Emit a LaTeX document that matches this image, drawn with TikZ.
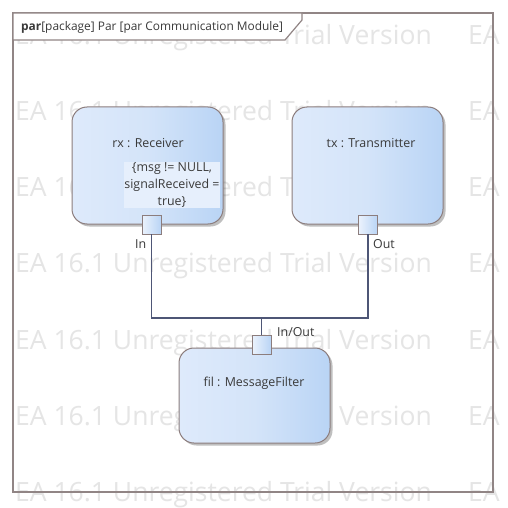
\documentclass[tikz,border=0pt]{standalone}
\usepackage{fontspec}
\setmainfont{Open Sans}
\usetikzlibrary{shadows}
\definecolor{bord}{RGB}{140,125,125}
\definecolor{frm}{RGB}{145,133,133}
\definecolor{wm}{RGB}{229,229,229}
\definecolor{lnk}{RGB}{78,86,118}
\definecolor{txt}{RGB}{58,58,58}
\definecolor{bl}{RGB}{222,234,251}
\definecolor{bm}{RGB}{212,228,249}
\definecolor{br}{RGB}{185,212,245}
\definecolor{hl}{RGB}{230,239,252}
\begin{document}
\begin{tikzpicture}[x=1pt,y=-1pt,
  part/.style={draw=bord, line width=1pt, rounded corners=15pt,
    left color=bl, right color=br, middle color=bm,
    minimum width=151pt, inner sep=0pt,
    drop shadow={shadow xshift=2.5pt, shadow yshift=-2.5pt, fill=black, opacity=0.25}},
  port/.style={draw=bord, line width=0.9pt, left color=bl!60!white, right color=br,
    minimum size=19pt, inner sep=0pt},
  lbl/.style={text=txt, font=\fontsize{12.4}{17}\selectfont, inner sep=0pt},
  wmark/.style={text=wm, font=\fontsize{26.5}{30}\selectfont, inner sep=0pt, anchor=base west},
  link/.style={draw=lnk, line width=1.1pt}]
\useasboundingbox (0,0) rectangle (508,508);
\fill[white] (0,0) rectangle (508,508);
% watermark
\foreach \yy [count=\i] in {35,111,187,263,340,416,492} {
  \node[wmark] (wa\i) at (15,\yy+9.5) {EA 16.1 Unregistered Trial Version};
  \node[wmark] (wb\i) at (468,\yy+9.5) {EA};
}
% frame
\draw[frm, line width=2.2pt] (13,13) rectangle (493,492);
\filldraw[fill=white, draw=frm, line width=1.2pt] (13,13) -- (13,40) -- (285,40) -- (302,20) -- (302,13) -- cycle;
\node[lbl, anchor=west, font=\fontsize{11.9}{15}\selectfont] (title) at (21,27) {\textbf{par}[package] Par [par Communication Module]};
% parts
\node[part, minimum height=117pt] (rx) at (147.5,165.5) {};
\node[part, minimum height=117pt] (tx) at (367.5,165.5) {};
\node[part, minimum height=95pt] (fil) at (254.5,395.5) {};
\node[lbl] (rxname) at (148,143) {rx : Receiver};
\node[lbl, align=center, fill=hl, inner sep=0.8pt] (rxcons) at (172,185) {\{msg != NULL,\\signalReceived =\\true\}};
\node[lbl] (txname) at (371,143) {tx : Transmitter};
\node[lbl] (filname) at (254,383) {fil : MessageFilter};
% ports
\node[port] (rxin) at (151.5,224.5) {};
\node[port] (txout) at (368,224.5) {};
\node[port] (filio) at (261.5,344.5) {};
\node[lbl, anchor=west] (inlbl) at (135,244.5) {In};
\node[lbl, anchor=west] (outlbl) at (373,244.5) {Out};
\node[lbl, anchor=west] (iolbl) at (277,332.5) {In/Out};
% connectors
\coordinate (j) at (261.5,318);
\draw[link] (rxin.south) -- (rxin.south |- j) -- (txout.south |- j) -- (txout.south);
\draw[link] (j) -- (filio.north);
\end{tikzpicture}
\end{document}
